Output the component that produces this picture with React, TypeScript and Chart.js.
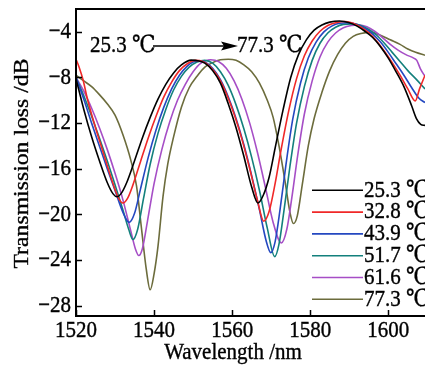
import React, { useEffect, useRef } from 'react';
import { Chart, registerables } from 'chart.js';

Chart.register(...registerables);

// ---------- data ----------
const seriesLabels = ['25.3 ℃', '32.8 ℃', '43.9 ℃', '51.7 ℃', '61.6 ℃', '77.3 ℃'];
const seriesColors = ['#000000', '#f02828', '#2448c0', '#13807c', '#a64ec6', '#6c6c3c'];

const wl253 = [1520, 1522, 1524, 1526, 1528, 1529.5, 1530.5, 1531.5, 1533, 1535, 1537, 1539, 1541, 1543, 1545, 1547, 1549.5, 1551.5, 1553, 1555, 1557, 1559, 1561, 1563, 1565, 1566.6, 1568, 1569.5, 1571, 1573, 1575, 1577, 1579, 1581, 1583, 1585, 1587.5, 1590, 1592, 1594, 1596, 1598, 1600, 1602, 1604, 1606, 1607.2, 1608.3, 1609.4];
const tl253 = [-8.1, -10.8, -13.2, -15.3, -17.2, -18.2, -18.45, -18.2, -17.2, -15.3, -13.3, -11.5, -9.9, -8.6, -7.6, -6.9, -6.48, -6.55, -6.75, -7.4, -8.5, -10.3, -12.4, -14.9, -17.6, -19.0, -18.3, -16.7, -14.2, -10.9, -8.0, -6.0, -4.7, -3.85, -3.4, -3.15, -3.05, -3.2, -3.5, -3.95, -4.5, -5.3, -6.3, -7.5, -8.8, -10.5, -11.6, -12.1, -12.2];

const wl328 = [1520, 1520.8, 1521.8, 1523, 1525, 1527, 1529, 1530.8, 1532, 1533.2, 1534.5, 1536.5, 1538.5, 1540.5, 1542.5, 1544.5, 1546.5, 1548.5, 1550.5, 1552.5, 1554.5, 1556.5, 1558.5, 1560.5, 1562.5, 1564.5, 1566.5, 1568.1, 1569.5, 1571, 1572.5, 1574.5, 1576.5, 1578.5, 1580.5, 1582.5, 1584.5, 1586.5, 1589, 1591, 1593, 1595, 1597, 1599, 1601, 1603, 1605, 1606.9, 1608, 1609.4];
const tl328 = [-6.4, -7.1, -8.2, -10.0, -12.4, -14.6, -16.8, -18.5, -19.0, -18.6, -17.5, -15.4, -13.3, -11.4, -9.7, -8.4, -7.4, -6.8, -6.5, -6.6, -7.1, -8.0, -9.4, -11.2, -13.4, -16.0, -18.8, -20.6, -19.7, -17.3, -14.4, -10.9, -8.1, -6.1, -4.8, -3.95, -3.45, -3.2, -3.1, -3.25, -3.6, -4.1, -4.8, -5.7, -6.7, -7.8, -9.0, -10.05, -9.0, -7.8];

const wl439 = [1520, 1522, 1524, 1526, 1528, 1530, 1532, 1533.6, 1535, 1536.5, 1538.5, 1540.5, 1542.5, 1544.5, 1546.5, 1548.5, 1550, 1551.5, 1553, 1555, 1557, 1559, 1561, 1563, 1565, 1567, 1568.7, 1569.9, 1571, 1572.3, 1573.8, 1575.5, 1577.5, 1579.5, 1581.5, 1583.5, 1585.5, 1587.5, 1590, 1592, 1594, 1596, 1598, 1600, 1602, 1604, 1606, 1607.8, 1609.4];
const tl439 = [-8.0, -9.9, -12.0, -14.0, -16.0, -17.9, -19.8, -20.7, -19.9, -17.8, -15.0, -12.6, -10.6, -9.0, -7.8, -7.0, -6.65, -6.55, -6.65, -7.2, -8.2, -9.7, -11.6, -13.9, -16.6, -19.6, -22.3, -23.35, -22.4, -19.5, -15.6, -11.7, -8.5, -6.3, -4.9, -4.0, -3.5, -3.25, -3.2, -3.35, -3.7, -4.2, -4.9, -5.8, -6.8, -7.8, -8.9, -9.8, -10.2];

const wl517 = [1520, 1522, 1524, 1526, 1528, 1530, 1532, 1533.5, 1534.6, 1535.8, 1537.3, 1539, 1541, 1543, 1545, 1547, 1549, 1551, 1553, 1555, 1557, 1559, 1561, 1563, 1565, 1567, 1569, 1570.9, 1572, 1573.3, 1574.8, 1576.5, 1578.5, 1580.5, 1582.5, 1584.5, 1586.5, 1588.5, 1591, 1593, 1595, 1597, 1599, 1601, 1603, 1605, 1607, 1609.4];
const tl517 = [-8.0, -9.6, -11.4, -13.3, -15.3, -17.4, -19.6, -21.3, -22.2, -21.3, -18.6, -15.6, -12.9, -10.8, -9.1, -7.9, -7.1, -6.65, -6.5, -6.75, -7.5, -8.7, -10.4, -12.5, -15.0, -17.9, -21.2, -23.7, -22.6, -19.6, -15.8, -12.0, -8.8, -6.5, -5.0, -4.1, -3.6, -3.35, -3.3, -3.45, -3.8, -4.3, -5.0, -5.8, -6.6, -7.4, -8.1, -9.0];

const wl616 = [1520, 1522, 1524, 1526, 1528, 1530, 1532, 1534, 1535.2, 1536.1, 1537, 1538.3, 1540, 1542, 1544, 1546, 1548, 1550, 1552, 1554.5, 1556.5, 1558.5, 1560.5, 1562.5, 1564.5, 1566.5, 1568.5, 1570.5, 1572.6, 1574, 1575.3, 1576.8, 1578.5, 1580.5, 1582.5, 1584.5, 1586.5, 1588.5, 1590.5, 1592.5, 1594.5, 1596.5, 1598.5, 1600.5, 1602.5, 1604.5, 1606.5, 1607.3, 1608.3, 1609.4];
const tl616 = [-8.0, -9.2, -10.7, -12.4, -14.3, -16.4, -18.7, -21.4, -23.0, -23.6, -23.0, -20.6, -17.3, -14.3, -11.9, -10.0, -8.6, -7.5, -6.75, -6.45, -6.6, -7.2, -8.3, -9.9, -12.0, -14.6, -17.6, -20.7, -22.5, -21.3, -18.5, -14.8, -11.2, -8.3, -6.2, -4.9, -4.1, -3.65, -3.45, -3.4, -3.55, -3.95, -4.5, -5.1, -5.6, -6.0, -6.3, -6.5, -7.3, -7.9];

const wl773 = [1520, 1522, 1524, 1526, 1528, 1530, 1532, 1534, 1535.5, 1536.7, 1538, 1539, 1540, 1541, 1542.3, 1543.5, 1545, 1547, 1549, 1551, 1553, 1555, 1557, 1559, 1561, 1563, 1565, 1567, 1569, 1570.5, 1572, 1573.5, 1574.8, 1575.7, 1576.7, 1578, 1579.5, 1581, 1583, 1585, 1587, 1589, 1591, 1593, 1595.5, 1598, 1600.5, 1603, 1605, 1607, 1609.4];
const tl773 = [-7.8, -8.3, -8.8, -9.5, -10.3, -11.3, -13.0, -15.2, -17.5, -21.0, -24.8, -26.6, -25.2, -22.8, -18.4, -15.6, -13.2, -10.6, -8.9, -7.9, -7.1, -6.7, -6.45, -6.4, -6.5, -6.9, -7.5, -8.5, -10.0, -11.5, -14.0, -17.0, -19.8, -20.8, -20.1, -17.3, -14.0, -11.6, -9.3, -7.4, -6.0, -5.0, -4.4, -4.15, -4.05, -4.3, -4.7, -5.1, -5.5, -5.8, -6.05];

const wavelengths = [wl253, wl328, wl439, wl517, wl616, wl773];
const losses = [tl253, tl328, tl439, tl517, tl616, tl773];

const xTicks = [1520, 1540, 1560, 1580, 1600];
const yTicks = [-4, -8, -12, -16, -20, -24, -28];
const xMin = 1520;
const xMax = 1609.4;
const yMin = -28.9;
const yMax = -2;

const xTitle = 'Wavelength /nm';
const yTitle = 'Transmission loss /dB';
const annoFrom = '25.3 ℃';
const annoTo = '77.3 ℃';

const FONT = '"Liberation Serif", "DejaVu Serif", serif';
const SY = 1.13;

const fmt = (v: number) => (v < 0 ? '\u2212' + Math.abs(v) : String(v));

function txt(ctx: CanvasRenderingContext2D, s: string, x: number, y: number, align: CanvasTextAlign) {
  ctx.save();
  ctx.translate(x, y);
  ctx.scale(1, SY);
  ctx.textAlign = align;
  ctx.textBaseline = 'middle';
  ctx.fillText(s, 0, 0);
  ctx.strokeText(s, 0, 0);
  ctx.restore();
}

const decor = {
  id: 'decor',
  afterDatasetsDraw(chart: any) {
    const { ctx, chartArea: a, scales } = chart;
    const xs = scales.x;
    const ys = scales.y;
    ctx.save();
    // frame
    ctx.strokeStyle = '#000';
    ctx.lineWidth = 2;
    ctx.beginPath();
    ctx.moveTo(a.right + 2, a.top);
    ctx.lineTo(a.left, a.top);
    ctx.lineTo(a.left, a.bottom);
    ctx.lineTo(a.right + 2, a.bottom);
    ctx.stroke();
    // inward ticks
    ctx.lineWidth = 1.5;
    ctx.beginPath();
    for (const v of yTicks) {
      const py = Math.round(ys.getPixelForValue(v)) + 0.5;
      ctx.moveTo(a.left, py);
      ctx.lineTo(a.left + 6, py);
    }
    for (const v of xTicks) {
      const px = Math.round(xs.getPixelForValue(v)) + 0.5;
      ctx.moveTo(px, a.bottom);
      ctx.lineTo(px, a.bottom - 6);
    }
    ctx.stroke();

    ctx.font = '21px ' + FONT;
    ctx.fillStyle = '#000';
    ctx.strokeStyle = '#000';
    ctx.lineWidth = 0.35;
    // tick labels
    for (const v of yTicks) {
      txt(ctx, fmt(v), a.left - 5, ys.getPixelForValue(v), 'right');
    }
    for (const v of xTicks) {
      txt(ctx, String(v), xs.getPixelForValue(v), a.bottom + 15, 'center');
    }

    // legend
    ctx.fillStyle = '#ffffff';
    ctx.fillRect(307, 178, 120, 132);
    seriesLabels.forEach((lab, i) => {
      const yy = 190.3 + i * 21.8;
      ctx.strokeStyle = seriesColors[i];
      ctx.lineWidth = 1.6;
      ctx.beginPath();
      ctx.moveTo(312, yy);
      ctx.lineTo(363, yy);
      ctx.stroke();
      ctx.fillStyle = '#000';
      ctx.strokeStyle = '#000';
      ctx.lineWidth = 0.35;
      txt(ctx, lab, 364, yy, 'left');
    });

    // annotation
    ctx.fillStyle = '#000';
    ctx.strokeStyle = '#000';
    ctx.lineWidth = 0.35;
    txt(ctx, annoFrom, 90, 45.5, 'left');
    txt(ctx, annoTo, 237, 45.5, 'left');
    ctx.lineWidth = 1.5;
    ctx.beginPath();
    ctx.moveTo(153, 46);
    ctx.lineTo(226, 46);
    ctx.stroke();
    ctx.beginPath();
    ctx.moveTo(238, 46);
    ctx.lineTo(221, 41.5);
    ctx.lineTo(224, 46);
    ctx.lineTo(221, 50.5);
    ctx.closePath();
    ctx.fill();

    // axis titles
    ctx.lineWidth = 0.35;
    txt(ctx, xTitle, 233, 352.5, 'center');
    ctx.save();
    ctx.translate(22, (a.top + a.bottom) / 2 + 1);
    ctx.rotate(-Math.PI / 2);
    ctx.scale(SY, 1);
    ctx.textAlign = 'center';
    ctx.textBaseline = 'middle';
    ctx.fillText(yTitle, 0, 0);
    ctx.strokeText(yTitle, 0, 0);
    ctx.restore();
    ctx.restore();
  },
};

export default function App() {
  const ref = useRef<HTMLCanvasElement | null>(null);
  useEffect(() => {
    if (!ref.current) return;
    const datasets = wavelengths.map((wl, i) => ({
      label: seriesLabels[i],
      data: wl.map((w, j) => ({ x: w, y: losses[i][j] })),
      borderColor: seriesColors[i],
      backgroundColor: seriesColors[i],
      borderWidth: 1.6,
      pointRadius: 0,
      fill: false,
      cubicInterpolationMode: 'monotone' as const,
    }));
    const chart = new Chart(ref.current, {
      type: 'line',
      data: { datasets },
      options: {
        animation: false,
        responsive: true,
        maintainAspectRatio: false,
        layout: { padding: { top: 9, right: 0, left: 0, bottom: 0 } },
        plugins: { legend: { display: false }, tooltip: { enabled: false } },
        scales: {
          x: {
            type: 'linear',
            min: xMin,
            max: xMax,
            grid: { display: false, drawTicks: false },
            border: { display: false },
            afterBuildTicks: (axis: any) => {
              axis.ticks = xTicks.map((v) => ({ value: v }));
            },
            afterFit: (axis: any) => {
              axis.height = 51;
            },
            ticks: { display: false },
          },
          y: {
            type: 'linear',
            min: yMin,
            max: yMax,
            grid: { display: false, drawTicks: false },
            border: { display: false },
            afterBuildTicks: (axis: any) => {
              axis.ticks = yTicks.map((v) => ({ value: v }));
            },
            afterFit: (axis: any) => {
              axis.width = 76;
            },
            ticks: { display: false },
          },
        },
      },
      plugins: [decor],
    });
    return () => chart.destroy();
  }, []);
  return (
    <div style={{ position: 'absolute', left: 0, top: 0, width: 425, height: 367, background: '#fff' }}>
      <canvas ref={ref} />
    </div>
  );
}
